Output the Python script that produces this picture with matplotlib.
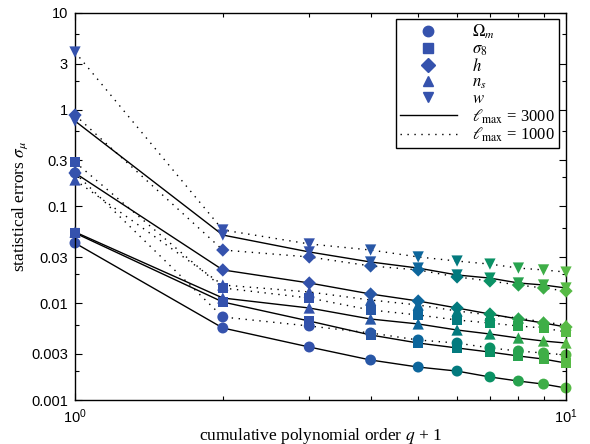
import numpy as np
import matplotlib.pyplot as plt
from matplotlib.lines import Line2D
from matplotlib.ticker import FixedLocator, NullFormatter

plt.rcParams['font.family'] = ['Liberation Sans', 'DejaVu Sans']
plt.rcParams['mathtext.fontset'] = 'stix'

# cumulative polynomial order q + 1
q_order = [1, 2, 3, 4, 5, 6, 7, 8, 9, 10]

# statistical errors, lmax = 3000 (solid) and lmax = 1000 (dotted)
omega_m_3000 = [0.0419, 0.00555, 0.00353, 0.00259, 0.00219, 0.00199, 0.00173, 0.00157, 0.00146, 0.00133]
omega_m_1000 = [0.222, 0.00721, 0.00582, 0.00493, 0.00417, 0.00388, 0.00345, 0.00321, 0.00306, 0.00292]
sigma8_3000 = [0.0532, 0.0103, 0.00655, 0.00470, 0.00388, 0.00345, 0.00313, 0.00285, 0.00265, 0.00241]
sigma8_1000 = [0.288, 0.01438, 0.01133, 0.00852, 0.00756, 0.00671, 0.00625, 0.00582, 0.00555, 0.00505]
h_3000 = [0.222, 0.0221, 0.0162, 0.01246, 0.01055, 0.00893, 0.00774, 0.00687, 0.00625, 0.00568]
h_1000 = [0.882, 0.0355, 0.0301, 0.0243, 0.0221, 0.0187, 0.0170, 0.01544, 0.01438, 0.01338]
ns_3000 = [0.0545, 0.01133, 0.00893, 0.00687, 0.00611, 0.00529, 0.00481, 0.00437, 0.00407, 0.00388]
ns_1000 = [0.188, 0.01544, 0.01307, 0.0108, 0.00959, 0.00832, 0.00756, 0.00704, 0.00640, 0.00596]
w_3000 = [0.765, 0.0507, 0.0339, 0.0267, 0.0231, 0.0196, 0.0182, 0.0162, 0.01544, 0.01438]
w_1000 = [3.95, 0.0572, 0.0410, 0.0355, 0.0301, 0.0273, 0.0254, 0.0231, 0.0221, 0.0210]

param_labels = [r'$\Omega_m$', r'$\sigma_8$', r'$h$', r'$n_s$', r'$w$']
markers = ['o', 's', 'D', '^', 'v']
marker_sizes = [62, 52, 46, 66, 66]

# marker colour for each q (blue -> green)
q_colors = ['#3552ad', '#3552ad', '#3352ab', '#2857a6', '#0d669c', '#037a7e',
            '#0b9165', '#28a34f', '#3fae47', '#57ba45']

series_3000 = [omega_m_3000, sigma8_3000, h_3000, ns_3000, w_3000]
series_1000 = [omega_m_1000, sigma8_1000, h_1000, ns_1000, w_1000]

fig = plt.figure(figsize=(5.9, 4.44), dpi=100)
ax = fig.add_axes([75/590, 44/444, 491/590, 387/444])
ax.set_xscale('log')
ax.set_yscale('log')

dotted = (0, (1, 4))
for ys in series_3000:
    ax.plot(q_order, ys, color='k', lw=1.0, zorder=1)
for ys in series_1000:
    ax.plot(q_order, ys, color='k', lw=1.0, ls=dotted, zorder=1)

for i in range(5):
    for ys in (series_1000[i], series_3000[i]):
        ax.scatter(q_order, ys, c=q_colors, marker=markers[i], s=marker_sizes[i],
                   linewidths=0, zorder=2 + i, clip_on=False)

ax.set_xlim(1, 10)
ax.set_ylim(1e-3, 10)

ax.set_xticks([1, 10])
ax.set_xticklabels([r'$\mathregular{10^0}$', r'$\mathregular{10^1}$'])
ax.xaxis.set_minor_locator(FixedLocator([2, 3, 4, 5, 6, 7, 8, 9]))
ax.xaxis.set_minor_formatter(NullFormatter())

yt = [0.001, 0.003, 0.01, 0.03, 0.1, 0.3, 1, 3, 10]
ax.set_yticks(yt)
ax.set_yticklabels(['0.001', '0.003', '0.01', '0.03', '0.1', '0.3', '1', '3', '10'])
ax.yaxis.set_minor_locator(FixedLocator([m * 10.0**k for k in range(-3, 1) for m in (2, 6)]))
ax.yaxis.set_minor_formatter(NullFormatter())

ax.tick_params(which='both', direction='in', top=True, right=True, labelsize=10.5, width=0.8)
ax.tick_params(which='major', length=5, pad=5)
ax.tick_params(which='minor', length=3)
for s in ax.spines.values():
    s.set_linewidth(1.0)

ax.set_xlabel(r'cumulative polynomial order $q$ + 1', family='Liberation Serif', fontsize=12.5, labelpad=0)
ax.set_ylabel(r'statistical errors $\sigma_\mu$', family='Liberation Serif', fontsize=12.5, labelpad=1)

handles = [Line2D([], [], ls='none', marker=m, color='#3552ad', markersize=7.5 if m != 's' else 6.5)
           for m in markers]
handles.append(Line2D([], [], color='k', lw=1.0))
handles.append(Line2D([], [], color='k', lw=1.0, ls=dotted))
labels = param_labels + [r'$\ell_{\rm max}$ = 3000', r'$\ell_{\rm max}$ = 1000']
leg = ax.legend(handles, labels, loc='upper right', bbox_to_anchor=(0.985, 0.985),
                borderaxespad=0, prop={'family': 'Liberation Serif', 'size': 12},
                fancybox=False, framealpha=1, edgecolor='k', handlelength=3.4,
                labelspacing=0.0, borderpad=0.25, handletextpad=0.9)
leg.get_frame().set_linewidth(1.0)

fig.savefig('out.png', dpi=100)
